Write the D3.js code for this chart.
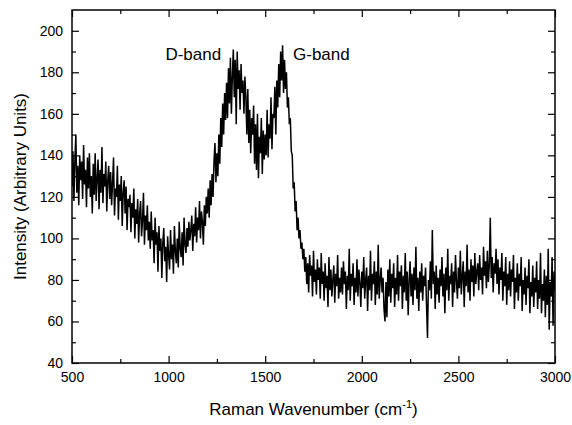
<!DOCTYPE html>
<html><head><meta charset="utf-8">
<script src="https://cdn.jsdelivr.net/npm/d3@7"></script>
<style>
html,body{margin:0;padding:0;background:#fff;}
svg text{font-family:"Liberation Sans",Arial,sans-serif;fill:#000;}
</style></head>
<body><svg id="chart" width="572" height="425"></svg>
<script>
const wavenumberStart = 500;
const wavenumberStep = 5;
const intensity = [
125,142,118,138,150,122,135,116,140,128,137,119,145,126,133,115,139,124,141,120,
130,112,136,121,141,118,129,138,114,133,122,144,117,131,125,137,113,128,135,119,
132,116,127,139,111,124,120,135,109,126,118,130,106,122,128,112,125,104,119,115,
121,103,117,110,124,100,114,107,119,98,112,118,101,109,122,97,111,104,116,99,
108,95,113,99,104,88,110,97,103,84,106,94,100,81,98,105,89,96,79,101,
92,85,104,90,97,83,106,94,88,100,86,108,95,91,103,87,110,97,93,105,
96,108,99,104,111,94,107,101,115,98,110,104,118,100,113,108,97,116,106,120,
112,124,110,128,116,131,120,137,146,127,141,130,150,136,158,144,165,150,170,157,
175,158,182,165,187,160,178,191,168,186,155,190,172,181,162,184,170,176,160,178,
168,150,172,146,162,141,158,150,164,136,155,133,160,129,149,141,158,131,152,138,
150,140,162,139,155,148,168,143,160,158,173,150,176,163,184,168,190,176,193,170,
186,172,180,163,168,155,158,142,140,124,127,113,118,104,110,100,104,95,98,90,
95,84,91,78,88,74,92,82,87,72,94,79,85,73,90,80,86,71,93,78,
84,70,88,76,82,67,91,75,85,72,80,87,69,83,77,92,71,81,74,86,
73,89,78,84,66,82,75,95,70,83,77,88,68,81,74,90,72,85,79,67,
84,76,91,71,80,86,65,82,75,94,70,83,78,89,68,84,73,97,71,80,
86,74,81,66,60,79,62,85,72,90,69,83,76,88,67,81,73,92,70,84,
77,87,66,82,74,93,70,84,63,80,89,72,83,68,86,75,96,71,81,65,
84,74,88,70,82,77,86,68,52,80,75,89,71,104,78,84,66,87,73,81,
69,85,77,91,72,83,64,86,75,95,70,82,78,88,67,84,74,92,79,71,
86,76,94,73,82,89,67,84,77,97,74,85,70,90,79,87,72,93,78,84,
88,75,92,80,86,73,96,82,89,76,94,79,87,110,81,91,74,88,83,95,
78,90,73,86,80,93,70,84,77,91,68,83,75,89,72,85,79,92,66,81,
74,88,70,83,77,91,65,80,73,86,68,82,76,90,64,79,72,87,67,81,
74,89,66,80,71,93,64,78,70,85,62,82,68,95,56,79,72,91,58,84,
75
];
const xTicks = [500,1000,1500,2000,2500,3000];
const yTicks = [40,60,80,100,120,140,160,180,200];
const xDomain = [500,3000];
const yDomain = [40,210];
const labels = [{text:"D-band", w:1272, v:186, anchor:"end"},{text:"G-band", w:1644, v:186, anchor:"start"}];

const data = intensity.map((v,i)=>({w: wavenumberStart + i*wavenumberStep, v}));

const svg = d3.select("#chart");
const m = {left:72, right:17, top:10, bottom:62};
const W = 572, H = 425;
const x = d3.scaleLinear().domain(xDomain).range([m.left, W - m.right]);
const y = d3.scaleLinear().domain(yDomain).range([H - m.bottom, m.top]);

svg.append("defs").append("clipPath").attr("id","clip")
  .append("rect").attr("x",m.left).attr("y",m.top)
  .attr("width",x.range()[1]-m.left).attr("height",y.range()[0]-m.top);

svg.append("path").datum(data)
  .attr("clip-path","url(#clip)")
  .attr("fill","none").attr("stroke","#000").attr("stroke-width",1.5)
  .attr("stroke-linejoin","bevel")
  .attr("d", d3.line().x(d=>x(d.w)).y(d=>y(d.v)));

const xMinor = d3.range(750, 3000, 500);
const yMinor = d3.range(50, 210, 20);

// bottom axis
const gB = svg.append("g").attr("transform",`translate(0,${y.range()[0]})`);
gB.call(d3.axisBottom(x).tickValues(xTicks).tickFormat(d3.format("d")).tickSize(-7).tickPadding(9));
gB.append("g").call(d3.axisBottom(x).tickValues(xMinor).tickSize(-4).tickFormat(""));
// top axis
const gT = svg.append("g").attr("transform",`translate(0,${m.top})`);
gT.call(d3.axisTop(x).tickValues(xTicks).tickSize(-7).tickFormat(""));
gT.append("g").call(d3.axisTop(x).tickValues(xMinor).tickSize(-4).tickFormat(""));
// left axis
const gL = svg.append("g").attr("transform",`translate(${m.left},0)`);
gL.call(d3.axisLeft(y).tickValues(yTicks).tickFormat(d3.format("d")).tickSize(-7).tickPadding(9));
gL.append("g").call(d3.axisLeft(y).tickValues(yMinor).tickSize(-4).tickFormat(""));
// right axis
const gR = svg.append("g").attr("transform",`translate(${x.range()[1]},0)`);
gR.call(d3.axisRight(y).tickValues(yTicks).tickSize(-7).tickFormat(""));
gR.append("g").call(d3.axisRight(y).tickValues(yMinor).tickSize(-4).tickFormat(""));

svg.selectAll(".domain").remove();
svg.selectAll(".tick line").attr("stroke","#000").attr("stroke-width",1.2);
svg.selectAll(".tick text").attr("font-size",14).attr("fill","#000")
  .style("font-family",'"Liberation Sans",Arial,sans-serif');

svg.append("rect").attr("x",m.left).attr("y",m.top)
  .attr("width",x.range()[1]-m.left).attr("height",y.range()[0]-m.top)
  .attr("fill","none").attr("stroke","#000").attr("stroke-width",1.5);

// annotations
labels.forEach(l=>{
  svg.append("text").attr("x",x(l.w)).attr("y",y(l.v))
    .attr("text-anchor",l.anchor).attr("font-size",17).text(l.text);
});

// axis titles
const xt = svg.append("text").attr("x",(m.left + x.range()[1])/2).attr("y",415)
  .attr("text-anchor","middle").attr("font-size",17);
xt.append("tspan").text("Raman Wavenumber (cm");
xt.append("tspan").attr("font-size",11).attr("dy",-7).text("-1");
xt.append("tspan").attr("dy",7).text(")");

svg.append("text").attr("transform",`translate(26,${(m.top + y.range()[0])/2}) rotate(-90)`)
  .attr("text-anchor","middle").attr("font-size",17).text("Intensity (Arbitrary Units)");
</script></body></html>
